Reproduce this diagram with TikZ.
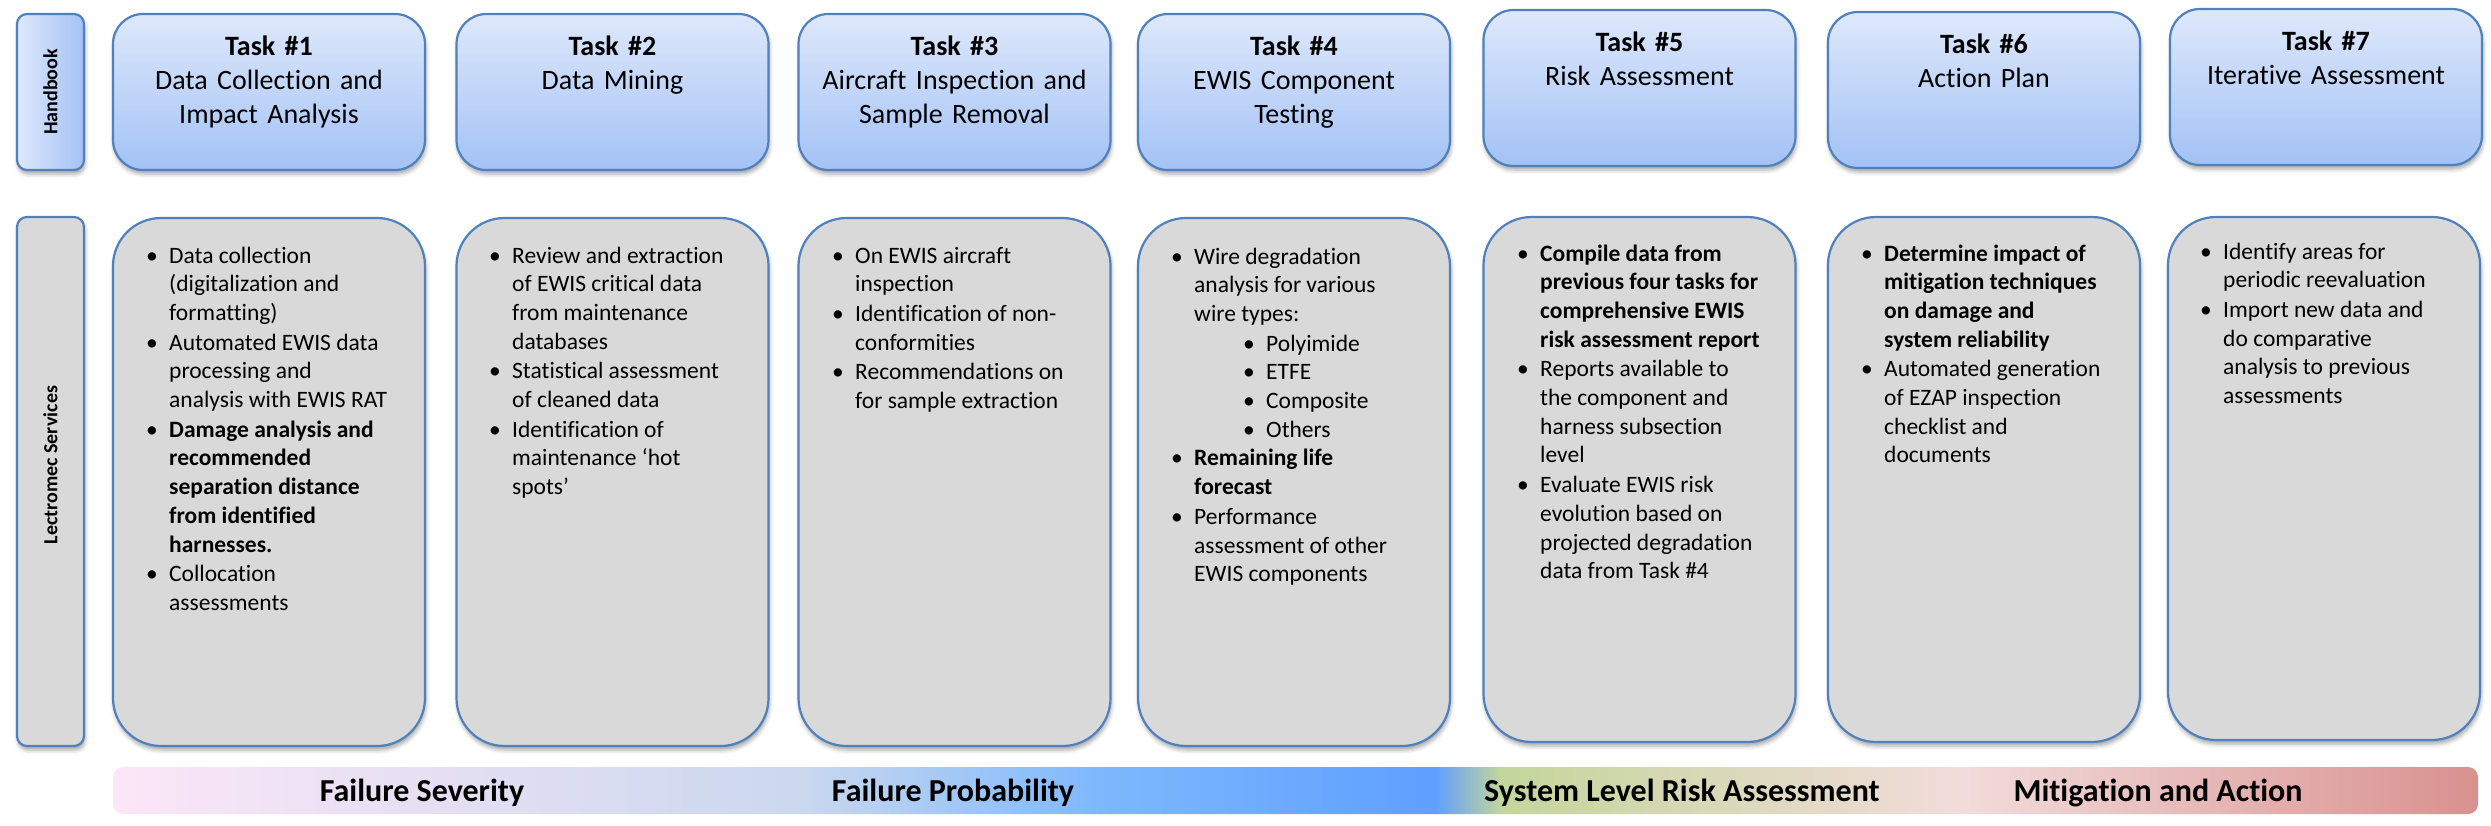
\documentclass[tikz,border=0pt]{standalone}
\usepackage{fontspec}
\setmainfont{Carlito}[Ligatures={NoCommon}]
\usetikzlibrary{shadows.blur}
\definecolor{edgeblue}{HTML}{4F81BD}
\definecolor{toplight}{HTML}{DEE8FB}
\definecolor{topdark}{HTML}{A3C2F6}
\definecolor{boxgray}{HTML}{D9D9D9}
\definecolor{barA}{HTML}{FCE6F7}
\definecolor{barB}{HTML}{CBD8EF}
\definecolor{barC}{HTML}{7DB8FD}
\definecolor{barD}{HTML}{5F9FFF}
\definecolor{barE}{HTML}{C3D69B}
\definecolor{barF}{HTML}{F2DCDB}
\definecolor{barG}{HTML}{D8918F}
\newcommand{\bul}[1]{\hbox{\hbox to 23pt{\textbullet\hss}\begin{tabular}[t]{@{}l@{}}#1\end{tabular}}}
\newcommand{\subbul}[1]{\hbox{\hspace*{72pt}\hbox to 23pt{\textbullet\hss}\begin{tabular}[t]{@{}l@{}}#1\end{tabular}}}
\tikzset{
  shadowed/.style={blur shadow={shadow xshift=1pt, shadow yshift=-4pt, shadow blur radius=4pt, shadow opacity=35}},
  topbox/.style={shadowed, draw=edgeblue, line width=2.2pt, rounded corners=30pt, top color=toplight, bottom color=topdark, minimum width=312pt, minimum height=156pt, inner sep=0pt},
  lowbox/.style={shadowed, draw=edgeblue, line width=2.2pt, rounded corners=48pt, fill=boxgray, minimum width=312pt, inner sep=0pt},
  sidebox/.style={shadowed, draw=edgeblue, line width=2.2pt, rounded corners=10pt, minimum width=67pt, inner sep=0pt},
  titletext/.style={anchor=base, inner sep=0pt, text width=310pt, align=center, font=\fontsize{28}{34}\selectfont},
  bodytext/.style={anchor=base west, inner sep=0pt, font=\fontsize{23.5}{28.7}\selectfont},
  sidetext/.style={rotate=90, inner sep=0pt, font=\bfseries\fontsize{20}{24}\selectfont},
  bartext/.style={anchor=base, inner sep=0pt, font=\bfseries\fontsize{32}{38}\selectfont}
}
\begin{document}
\begin{tikzpicture}[x=1pt,y=-1pt]
\useasboundingbox (0,0) rectangle (2491,825);
% side boxes
\node[sidebox, left color=toplight, right color=topdark, minimum height=156pt] (hb) at (50.5,92) {};
\node[sidetext] (hbt) at (50.5,92) {Handbook};
\node[sidebox, fill=boxgray, minimum height=529pt] (ls) at (50.5,481.5) {};
\node[sidetext] (lst) at (50.5,465) {Lectromec Services};
% top boxes
\node[topbox] (t1) at (269,92) {};
\node[topbox] (t2) at (612.5,92) {};
\node[topbox] (t3) at (954.5,92) {};
\node[topbox] (t4) at (1294,92) {};
\node[topbox] (t5) at (1639.5,88) {};
\node[topbox] (t6) at (1984,90) {};
\node[topbox] (t7) at (2326,87) {};
\node[titletext] (t1t) at (269,55) {\textbf{Task \#1}\\Data Collection and\\Impact Analysis};
\node[titletext] (t2t) at (612.5,55) {\textbf{Task \#2}\\Data Mining};
\node[titletext] (t3t) at (954.5,55) {\textbf{Task \#3}\\Aircraft Inspection and\\Sample Removal};
\node[titletext] (t4t) at (1294,55) {\textbf{Task \#4}\\EWIS Component\\Testing};
\node[titletext] (t5t) at (1639.5,51) {\textbf{Task \#5}\\Risk Assessment};
\node[titletext] (t6t) at (1984,53) {\textbf{Task \#6}\\Action Plan};
\node[titletext] (t7t) at (2326,50) {\textbf{Task \#7}\\Iterative Assessment};
% lower boxes
\node[lowbox, minimum height=528pt] (l1) at (269,482) {};
\node[lowbox, minimum height=528pt] (l2) at (612.5,482) {};
\node[lowbox, minimum height=528pt] (l3) at (954.5,482) {};
\node[lowbox, minimum height=528pt] (l4) at (1294,482) {};
\node[lowbox, minimum height=525pt] (l5) at (1639.5,479.5) {};
\node[lowbox, minimum height=525pt] (l6) at (1984,479.5) {};
\node[lowbox, minimum height=523pt] (l7) at (2324,478.5) {};
\node[bodytext] (l1t) at (146,263) {\vtop{%
\bul{Data collection\\(digitalization and\\formatting)}%
\bul{Automated EWIS data\\processing and\\analysis with EWIS RAT}%
\bul{\textbf{Damage analysis and}\\\textbf{recommended}\\\textbf{separation distance}\\\textbf{from identified}\\\textbf{harnesses.}}%
\bul{Collocation\\assessments}}};
\node[bodytext] (l2t) at (489,263) {\vtop{%
\bul{Review and extraction\\of EWIS critical data\\from maintenance\\databases}%
\bul{Statistical assessment\\of cleaned data}%
\bul{Identification of\\maintenance ‘hot\\spots’}}};
\node[bodytext] (l3t) at (832,263) {\vtop{%
\bul{On EWIS aircraft\\inspection}%
\bul{Identification of non-\\conformities}%
\bul{Recommendations on\\for sample extraction}}};
\node[bodytext] (l4t) at (1171,264) {\vtop{%
\bul{Wire degradation\\analysis for various\\wire types:}%
\subbul{Polyimide}%
\subbul{ETFE}%
\subbul{Composite}%
\subbul{Others}%
\bul{\textbf{Remaining life}\\\textbf{forecast}}%
\bul{Performance\\assessment of other\\EWIS components}}};
\node[bodytext] (l5t) at (1517,261) {\vtop{%
\bul{\textbf{Compile data from}\\\textbf{previous four tasks for}\\\textbf{comprehensive EWIS}\\\textbf{risk assessment report}}%
\bul{Reports available to\\the component and\\harness subsection\\level}%
\bul{Evaluate EWIS risk\\evolution based on\\projected degradation\\data from Task \#4}}};
\node[bodytext] (l6t) at (1861,261) {\vtop{%
\bul{\textbf{Determine impact of}\\\textbf{mitigation techniques}\\\textbf{on damage and}\\\textbf{system reliability}}%
\bul{Automated generation\\of EZAP inspection\\checklist and\\documents}}};
\node[bodytext] (l7t) at (2200,259) {\vtop{%
\bul{Identify areas for\\periodic reevaluation}%
\bul{Import new data and\\do comparative\\analysis to previous\\assessments}}};
% gradient bar
\begin{scope}
\clip[rounded corners=10pt] (113,767) rectangle (2478,814);
\shade[left color=barA, right color=barB] (112,766) rectangle (801,815);
\shade[left color=barB, right color=barC] (800,766) rectangle (1101,815);
\shade[left color=barC, right color=barD] (1100,766) rectangle (1436,815);
\shade[left color=barD, right color=barE] (1435,766) rectangle (1501,815);
\shade[left color=barE, right color=barF] (1500,766) rectangle (1961,815);
\shade[left color=barF, right color=barG] (1960,766) rectangle (2479,815);
\end{scope}
\node[bartext] (b1) at (422,801) {Failure Severity};
\node[bartext] (b2) at (953,801) {Failure Probability};
\node[bartext] (b3) at (1682,801) {System Level Risk Assessment};
\node[bartext] (b4) at (2158,801) {Mitigation and Action};
\end{tikzpicture}
\end{document}
